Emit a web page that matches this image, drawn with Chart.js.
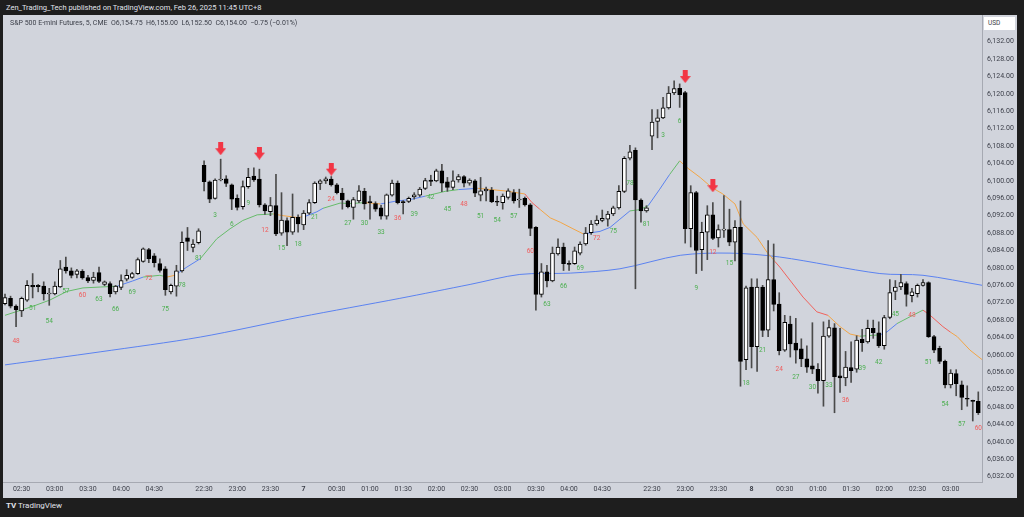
<!DOCTYPE html>
<html>
<head>
<meta charset="utf-8">
<script src="https://cdn.jsdelivr.net/npm/chart.js@4.4.1/dist/chart.umd.min.js"></script>
<style>
  html, body { margin: 0; padding: 0; width: 1024px; height: 517px; overflow: hidden; background: #1e1e1e; font-family: Roboto, "DejaVu Sans", sans-serif; }
  #hdr { position: absolute; left: 6px; top: 3px; font-size: 7.5px; color: #e0e3eb; white-space: nowrap; }
  #panel { position: absolute; left: 3px; top: 15px; width: 1014px; height: 483px; background: #d1d4dc; }
  #legend { position: absolute; left: 7px; top: 4px; font-size: 7px; color: #3b3e48; white-space: nowrap; }
  #usd { position: absolute; right: 2px; top: 2px; width: 31px; height: 13px; background: #fff; font-size: 6.5px; color: #3b3e48; line-height: 13px; text-indent: 4px; }
  #brand { position: absolute; left: 6px; top: 501px; font-size: 8px; color: #e0e3eb; white-space: nowrap; }
  canvas { position: absolute; left: 0; top: 0; }
</style>
</head>
<body>
<div id="hdr">Zen_Trading_Tech published on TradingView.com, Feb 26, 2025 11:45 UTC+8</div>
<div id="panel">
  <canvas id="es5" width="1014" height="483"></canvas>
  <div id="legend">S&amp;P 500 E-mini Futures, 5, CME &nbsp;O6,154.75 &nbsp;H6,155.00 &nbsp;L6,152.50 &nbsp;C6,154.00 &nbsp;−0.75 (−0.01%)</div>
  <div id="usd">USD</div>
</div>
<div id="brand"><b>TV</b> TradingView</div>
<script>
// ---- 5 min bars (index 0 = bar 46 of the first session) ----
var opens = [
6071.8,6073.0,6071.2,6070.1,6072.6,6076.0,6076.0,6075.8,6074.0,6074.0,
6075.6,6080.2,6079.3,6078.5,6079.2,6077.8,6077.1,6078.9,6076.2,6076.4,
6074.5,6075.5,6077.4,6077.8,6078.7,6081.5,6084.2,6082.8,6081.0,6079.8,
6074.5,6075.8,6079.3,6086.9,6084.7,6085.8,6103.6,6099.8,6096.0,6100.2,
6100.5,6099.1,6096.0,6094.1,6098.7,6101.1,6100.4,6094.5,6092.9,6094.3,
6088.0,6090.9,6088.2,6091.6,6089.9,6092.6,6095.0,6099.4,6100.0,6100.4,
6099.1,6097.2,6095.4,6093.9,6095.4,6097.6,6095.1,6094.8,6093.8,6091.9,
6096.7,6099.5,6095.1,6095.3,6096.3,6096.7,6098.3,6100.2,6100.0,6102.3,
6099.8,6098.5,6100.2,6101.0,6099.5,6100.0,6096.7,6097.7,6097.9,6095.2,
6095.0,6096.2,6097.3,6095.6,6096.0,6094.5,6089.3,6073.9,6079.1,6077.0,
6083.2,6084.8,6080.9,6081.0,6083.4,6085.5,6088.1,6090.1,6090.9,6091.2,
6092.4,6093.8,6097.6,6105.2,6107.0,6095.6,6093.1,6110.3,6113.7,6114.5,
6116.8,6120.2,6121.3,6120.3,6089.0,6097.3,6084.2,6088.2,6092.2,6086.9,
6088.7,6088.8,6085.9,6089.3,6058.9,6075.6,6061.9,6075.6,6065.7,6077.3,
6071.7,6061.1,6067.1,6062.7,6061.4,6059.1,6057.5,6056.7,6054.1,6064.3,
6066.2,6055.2,6054.7,6057.1,6056.7,6063.6,6063.0,6066.1,6065.1,6062.1,
6068.6,6074.6,6075.6,6076.4,6073.6,6074.1,6076.0,6076.6,6064.2,6061.5,
6058.5,6053.1,6055.7,6053.1,6050.0,6049.4,6049.3];
var highs = [
6074.0,6073.5,6071.5,6073.3,6077.1,6078.7,6076.2,6076.8,6075.3,6076.8,
6081.7,6082.5,6080.0,6079.7,6079.6,6078.3,6079.0,6080.2,6077.0,6076.8,
6076.0,6078.4,6079.6,6079.0,6082.3,6084.6,6084.5,6083.3,6082.1,6080.3,
6076.3,6080.6,6088.3,6089.3,6086.5,6089.0,6104.6,6100.0,6100.5,6105.0,
6101.2,6099.3,6096.8,6100.0,6102.9,6103.0,6102.7,6094.8,6096.2,6101.5,
6097.3,6091.5,6097.0,6092.2,6093.2,6095.7,6099.8,6100.3,6100.9,6101.0,
6099.4,6098.3,6095.6,6096.2,6098.9,6098.3,6096.5,6095.2,6094.4,6097.0,
6100.2,6100.0,6095.5,6096.3,6097.3,6098.5,6100.6,6101.3,6102.7,6103.8,
6100.8,6102.3,6101.5,6101.2,6100.5,6100.3,6100.8,6098.6,6098.5,6096.5,
6097.0,6098.2,6098.0,6098.1,6096.3,6094.8,6089.5,6081.0,6080.6,6084.8,
6086.7,6085.7,6081.6,6084.8,6086.0,6089.3,6090.9,6092.0,6093.3,6093.0,
6094.2,6098.9,6105.6,6108.2,6107.6,6095.9,6094.3,6116.4,6116.4,6119.2,
6121.7,6123.0,6122.3,6120.6,6098.9,6097.6,6090.5,6094.3,6095.0,6089.9,
6096.6,6093.5,6090.9,6095.4,6075.8,6077.5,6077.5,6076.0,6086.3,6085.5,
6074.3,6069.1,6068.9,6068.4,6063.7,6062.1,6067.4,6058.0,6067.6,6068.0,
6067.2,6066.1,6060.8,6063.0,6064.4,6065.9,6068.0,6068.0,6067.6,6069.1,
6077.3,6077.1,6078.5,6076.8,6075.3,6076.3,6077.3,6076.8,6064.5,6062.0,
6058.8,6056.6,6056.6,6054.0,6052.9,6049.6,6051.5];
var lows = [
6071.5,6070.8,6066.5,6068.8,6072.3,6073.1,6074.5,6072.6,6071.4,6073.8,
6075.5,6078.8,6077.7,6077.7,6077.4,6076.6,6076.5,6076.6,6075.9,6073.3,
6074.0,6075.0,6077.0,6077.6,6078.5,6081.3,6081.2,6080.2,6079.0,6073.7,
6074.0,6073.5,6079.0,6084.0,6083.7,6085.5,6097.7,6095.0,6095.8,6100.0,
6098.7,6093.4,6093.3,6093.5,6098.3,6099.9,6094.0,6092.3,6092.0,6087.4,
6087.5,6085.1,6087.7,6088.2,6088.8,6092.3,6094.8,6098.0,6099.4,6098.8,
6097.0,6093.5,6093.8,6091.2,6095.0,6093.5,6091.2,6093.0,6091.2,6091.2,
6096.5,6094.7,6092.4,6095.0,6095.8,6096.4,6098.0,6098.9,6099.8,6097.5,
6097.6,6098.0,6099.7,6098.6,6099.0,6096.4,6095.4,6095.4,6095.0,6094.3,
6093.5,6095.8,6094.9,6093.9,6094.2,6087.4,6070.3,6073.3,6075.6,6076.8,
6082.9,6079.4,6079.4,6080.8,6083.0,6085.2,6087.7,6089.8,6090.6,6089.6,
6092.0,6093.5,6097.3,6104.8,6075.2,6090.5,6092.8,6107.2,6109.9,6114.3,
6116.5,6119.8,6116.9,6085.7,6084.8,6078.7,6079.4,6081.9,6086.5,6084.8,
6087.0,6085.1,6081.6,6052.8,6056.6,6057.0,6056.2,6064.2,6064.2,6070.1,
6060.0,6060.8,6059.5,6058.1,6057.3,6056.0,6055.7,6051.2,6048.2,6064.0,
6046.7,6051.4,6052.9,6053.7,6056.0,6060.8,6062.7,6063.8,6061.7,6061.3,
6068.3,6072.7,6075.0,6071.2,6072.2,6073.3,6075.8,6064.0,6060.5,6058.0,
6052.4,6052.4,6050.6,6047.4,6048.2,6044.8,6046.3];
var closes = [
6073.2,6071.2,6070.4,6073.0,6076.0,6075.6,6075.7,6074.0,6074.1,6075.8,
6079.8,6079.3,6078.3,6079.3,6077.7,6077.0,6077.9,6076.9,6076.8,6074.1,
6075.8,6077.1,6078.3,6078.7,6081.9,6084.4,6082.1,6081.2,6079.4,6075.0,
6076.0,6079.3,6085.9,6086.1,6085.5,6088.5,6099.8,6095.8,6100.2,6100.3,
6099.4,6095.8,6093.9,6098.7,6100.8,6100.2,6094.5,6093.1,6094.3,6087.8,
6091.0,6088.2,6091.6,6090.1,6092.6,6095.0,6099.5,6100.0,6100.5,6099.1,
6097.3,6095.6,6094.1,6095.7,6097.7,6094.7,6095.0,6093.5,6091.9,6096.8,
6099.5,6095.0,6095.0,6096.0,6096.8,6098.1,6100.1,6099.9,6102.3,6099.5,
6098.5,6100.0,6101.0,6099.5,6100.2,6097.2,6097.7,6098.1,6095.2,6095.1,
6096.5,6097.7,6095.4,6095.7,6094.5,6089.1,6073.9,6079.1,6077.0,6083.4,
6084.8,6081.0,6080.8,6083.9,6085.5,6088.0,6090.1,6091.0,6091.4,6092.4,
6093.8,6097.6,6105.2,6106.7,6095.6,6093.1,6093.8,6113.5,6114.5,6116.8,
6120.2,6121.2,6119.8,6089.0,6097.3,6084.0,6088.2,6092.2,6086.8,6088.8,
6088.9,6085.9,6089.3,6058.5,6075.4,6061.9,6075.6,6065.6,6077.3,6071.6,
6061.0,6067.5,6062.5,6061.1,6059.1,6057.2,6056.7,6054.1,6064.3,6066.3,
6055.0,6054.7,6057.2,6056.4,6063.4,6062.8,6066.1,6065.1,6062.1,6068.6,
6074.3,6075.6,6076.6,6073.9,6074.5,6076.0,6076.6,6064.2,6061.1,6058.5,
6053.1,6055.8,6053.4,6050.2,6049.8,6049.3,6046.7];

// time axis labels (bar index -> text)
var tickIdx  = [3, 9, 15, 21, 27, 36, 42, 48, 54, 60, 66, 72, 78, 84, 90, 96, 102, 108, 117, 123, 129, 135, 141, 147, 153, 159, 165, 171];
var tickText = ["02:30","03:00","03:30","04:00","04:30","22:30","23:00","23:30","7","00:30","01:00","01:30","02:00","02:30","03:00","03:30","04:00","04:30","22:30","23:00","23:30","8","00:30","01:00","01:30","02:00","02:30","03:00"];
var priceTicks = [6132,6128,6124,6120,6116,6112,6108,6104,6100,6096,6092,6088,6084,6080,6076,6072,6068,6064,6060,6056,6052,6048,6044,6040,6036,6032];

// slow moving average (blue)
var slowIdx = [0, 17.2, 35.3, 53.3, 71.4, 84.1, 93.1, 102.2, 111.2, 122.1, 131.1, 140.1, 158.2, 166, 176.7];
var slowVal = [6057.7, 6060.7, 6064.1, 6068.7, 6073.0, 6076.2, 6078.5, 6078.8, 6079.8, 6082.9, 6083.4, 6082.5, 6078.7, 6078.3, 6076.0];

// fast moving average, colour of the segment that starts at each point
var fastIdx = [0,5.1,8.1,11.2,14.1,17.2,20.3,23.1,25,28,29.3,30.7,32.9,35.3,38.3,40.7,43,45.6,48.5,50.3,52.8,54.2,56.4,57.5,60.6,62.4,65.1,67.9,70.5,73.6,76,79.6,82,85.5,90.4,94,95.3,96.7,98.6,100.4,102.7,104.6,107.6,109.4,111.2,113,114.8,116.3,118.4,120.2,122,123.5,125.7,127.8,129.8,132,133.5,136,137.8,139.2,140.1,144.3,146.8,148.8,151,152.8,154.6,158.2,159.5,161.3,163.7,166,167.3,169.6,171,172.2,174.5,176.7];
var fastVal = [6069.1,6071.2,6072.6,6074.6,6075.4,6075.6,6075.8,6077.0,6077.9,6078.3,6077.9,6078.3,6080.2,6082.1,6086.7,6089.0,6090.9,6092.2,6092.4,6092.0,6091.6,6091.8,6092.9,6093.7,6094.9,6094.8,6095.0,6094.7,6095.3,6095.8,6096.5,6097.6,6098.0,6098.3,6097.7,6097.0,6095.0,6093.5,6091.5,6090.5,6089.0,6087.8,6088.4,6089.3,6091.2,6093.1,6093.4,6094.3,6098.1,6101.5,6104.6,6102.9,6100.8,6098.5,6097.0,6094.7,6090.1,6087.0,6083.6,6081.5,6080.2,6073.3,6069.9,6069.1,6066.5,6064.8,6064.3,6064.6,6065.3,6067.2,6068.8,6070.3,6069.1,6066.5,6065.2,6064.2,6061.1,6058.9];
var fastCol = ['g','g','g','g','g','g','b','b','g','g','o','b','b','g','g','g','g','g','o','o','o','b','b','g','g','g','o','b','b','b','g','g','b','o','o','r','r','o','o','o','o','b','b','b','b','g','g','b','b','g','o','o','o','o','o','o','o','o','o','r','r','r','r','o','o','o','g','b','b','g','g','r','r','r','o','o','o','o'];

// bar count labels
var countIdx = [2,5,8,11,14,17,20,23,26,29,32,35,
  38,41,44,47,50,53,56,59,62,65,68,71,74,77,80,83,86,89,92,95,98,101,104,107,110,113,116,
  119,122,125,128,131,134,137,140,143,146,149,152,155,158,161,164,167,170,173,176];
var countNum = [48,51,54,57,60,63,66,69,72,75,78,81,
  3,6,9,12,15,18,21,24,27,30,33,36,39,42,45,48,51,54,57,60,63,66,69,72,75,78,81,
  3,6,9,12,15,18,21,24,27,30,33,36,39,42,45,48,51,54,57,60];
var countPrice = [6063.2,6070.7,6067.8,6074.5,6073.6,6072.8,6070.4,6074.3,6077.7,6070.4,6075.9,6082.2,
  6092.0,6089.9,6094.9,6088.6,6084.4,6085.5,6091.6,6095.8,6090.3,6090.2,6088.1,6091.4,6092.3,6096.1,6093.4,6094.6,6091.8,6090.9,6091.8,6083.8,6071.7,6075.8,6079.8,6086.9,6088.4,6099.4,6089.9,
  6110.5,6113.6,6075.4,6083.6,6081.0,6053.5,6061.0,6056.7,6054.8,6052.5,6053.1,6049.6,6057.0,6058.2,6069.4,6069.0,6058.2,6048.6,6044.0,6043.0];

// signal arrows
var arrowIdx = [39, 46, 59, 123, 128];
var arrowPrice = [6107.4, 6106.4, 6102.7, 6124.0, 6098.9];

var MA_COLORS = { g: '#66bb6a', b: '#5b82f0', o: '#f2a546', r: '#f0625c' };
var COUNT_GREEN = '#4caf50', COUNT_RED = '#f05a5a';

function makeArrow() {
    var c = document.createElement('canvas');
    c.width = 11; c.height = 13;
    var g = c.getContext('2d');
    g.fillStyle = '#f23645';
    g.fillRect(3, 0, 5, 7);
    g.beginPath();
    g.moveTo(0, 6); g.lineTo(11, 6); g.lineTo(5.5, 13);
    g.closePath();
    g.fill();
    return c;
}

var barCountPlugin = {
    id: 'barCount',
    afterDatasetsDraw: function (chart) {
        var ctx = chart.ctx, x = chart.scales.x, y = chart.scales.y;
        ctx.save();
        ctx.font = '6.5px Roboto';
        ctx.textAlign = 'center';
        ctx.textBaseline = 'middle';
        for (var k = 0; k < countIdx.length; k++) {
            ctx.fillStyle = countNum[k] % 12 === 0 ? COUNT_RED : COUNT_GREEN;
            ctx.fillText(String(countNum[k]), x.getPixelForValue(countIdx[k]), y.getPixelForValue(countPrice[k]));
        }
        ctx.restore();
    }
};

var idx = opens.map(function (v, i) { return i; });
var bodyColors = idx.map(function (i) { return closes[i] >= opens[i] ? '#ffffff' : '#000000'; });

new Chart(document.getElementById('es5'), {
    type: 'bar',
    plugins: [barCountPlugin],
    data: {
        datasets: [
            {
                type: 'line', order: -1, showLine: false,
                data: arrowIdx.map(function (v, k) { return { x: v, y: arrowPrice[k] }; }),
                pointStyle: makeArrow(), pointRadius: 6
            },
            {
                type: 'bar', order: 1, grouped: false,
                data: idx.map(function (i) { return { x: i, y: [opens[i], closes[i]] }; }),
                backgroundColor: bodyColors, borderColor: '#000000', borderWidth: 1,
                borderSkipped: false, barThickness: 4, minBarLength: 1
            },
            {
                type: 'bar', order: 2, grouped: false,
                data: idx.map(function (i) { return { x: i, y: [lows[i], highs[i]] }; }),
                backgroundColor: '#4a4a4a', barThickness: 1
            },
            {
                type: 'line', order: 3,
                data: fastIdx.map(function (v, k) { return { x: v, y: fastVal[k] }; }),
                borderColor: MA_COLORS.g, borderWidth: 1, pointRadius: 0, tension: 0,
                segment: { borderColor: function (c) { return MA_COLORS[fastCol[c.p0DataIndex]]; } }
            },
            {
                type: 'line', order: 3,
                data: slowIdx.map(function (v, k) { return { x: v, y: slowVal[k] }; }),
                borderColor: MA_COLORS.b, borderWidth: 1, pointRadius: 0, tension: 0.3
            }
        ]
    },
    options: {
        responsive: false,
        animation: false,
        events: [],
        layout: { padding: 0, autoPadding: false },
        plugins: { legend: { display: false }, tooltip: { enabled: false }, title: { display: false } },
        scales: {
            x: {
                type: 'linear', min: -0.362, max: 176.67, offset: false,
                grid: { display: false, drawTicks: false },
                border: { display: true, color: '#a6a9b2' },
                afterBuildTicks: function (s) { s.ticks = tickIdx.map(function (v) { return { value: v }; }); },
                afterFit: function (s) { s.height = 16; s.paddingLeft = 0; s.paddingRight = 0; },
                ticks: {
                    autoSkip: false, maxRotation: 0, padding: 3, color: '#3b3e48',
                    font: function (c) {
                        var t = tickText[c.index];
                        return { family: 'Roboto', size: 7, weight: (t === '7' || t === '8') ? 'bold' : 'normal' };
                    },
                    callback: function (v, i) { return tickText[i]; }
                }
            },
            y: {
                position: 'right', min: 6030.78, max: 6138.14,
                grid: { display: false, drawTicks: false },
                border: { display: true, color: '#a6a9b2' },
                afterBuildTicks: function (s) { s.ticks = priceTicks.map(function (v) { return { value: v }; }); },
                afterFit: function (s) { s.width = 35; s.paddingTop = 0; s.paddingBottom = 0; },
                ticks: {
                    autoSkip: false, padding: 5, color: '#3b3e48', font: { family: 'Roboto', size: 7 },
                    callback: function (v) { return v.toLocaleString('en-US', { minimumFractionDigits: 2, maximumFractionDigits: 2 }); }
                }
            }
        }
    }
});
</script>
</body>
</html>
